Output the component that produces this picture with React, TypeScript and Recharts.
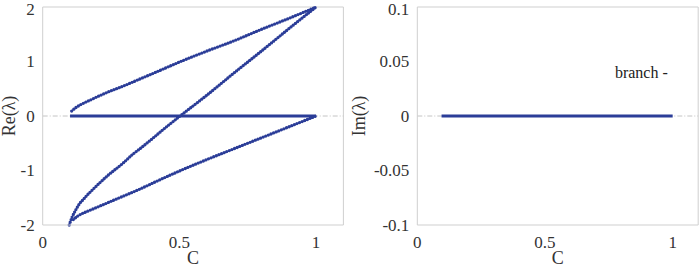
import { LineChart, Line, XAxis, YAxis, ReferenceLine, ReferenceDot } from "recharts";

// C values and Re(lambda) per branch
const upperC = [0.106, 0.12, 0.136, 0.173, 0.234, 0.295, 0.356, 0.417, 0.5, 0.6, 0.7, 0.8, 0.9, 1.0];
const upperRe = [0.09, 0.15, 0.2, 0.29, 0.43, 0.55, 0.68, 0.81, 0.99, 1.19, 1.38, 1.59, 1.79, 2.0];

const diagC = [0.097, 0.108, 0.118, 0.127, 0.136, 0.149, 0.161, 0.173, 0.21, 0.234, 0.295, 0.33, 0.356, 0.4, 0.45, 0.5, 0.6, 0.7, 0.8, 0.9, 1.0];
const diagRe = [-2.0, -1.85, -1.75, -1.67, -1.6, -1.53, -1.46, -1.4, -1.22, -1.11, -0.86, -0.7, -0.6, -0.42, -0.21, -0.01, 0.38, 0.79, 1.19, 1.6, 2.0];

const lowerC = [0.112, 0.13, 0.173, 0.234, 0.295, 0.356, 0.42, 0.5, 0.6, 0.7, 0.8, 0.9, 1.0];
const lowerRe = [-1.9, -1.83, -1.73, -1.6, -1.47, -1.34, -1.19, -1.01, -0.8, -0.6, -0.4, -0.2, 0.0];

const zeroC = [0.1, 1.0];
const zeroRe = [0, 0];

const imC = [0.095, 1.0];
const imVals = [0, 0];

const xTicks = [0, 0.5, 1];
const reTicks = [-2, -1, 0, 1, 2];
const imTicks = [-0.1, -0.05, 0, 0.05, 0.1];

const zip = (xs: number[], ys: number[]) => xs.map((x, i) => ({ x, y: ys[i] }));

const blue = "#2b3d98";
const frame = "#cfcfcf";
const serif = "Liberation Serif";
const txt = { fontFamily: serif };

const XTick = (props: any) => (
    <text x={props.x} y={props.y} dy="0.71em" textAnchor="middle" fill="#333" fontSize={17} style={txt}>
        {props.payload.value}
    </text>
);

const YTick = (props: any) => (
    <text x={props.x} y={props.y} textAnchor="end" dominantBaseline="central" fill="#333" fontSize={17} style={txt}>
        {props.payload.value}
    </text>
);

const yLabel = (text: string, x: number) => (props: any) => {
    const vb = props.viewBox;
    const cy = vb.y + vb.height / 2;
    return (
        <text
            x={x}
            y={cy}
            transform={`rotate(-90 ${x} ${cy})`}
            textAnchor="middle"
            dominantBaseline="central"
            fill="#333"
            fontSize={18}
            style={txt}
        >
            {text}
        </text>
    );
};

const xLabel = (props: any) => {
    const vb = props.viewBox;
    return (
        <text x={vb.x + vb.width / 2} y={vb.y + vb.height - 3} textAnchor="middle" fill="#333" fontSize={18} style={txt}>
            C
        </text>
    );
};

const branchLabel = (props: any) => {
    const vb = props.viewBox;
    return (
        <text x={vb.x} y={vb.y} dominantBaseline="central" fill="#222" fontSize={16} style={txt}>
            branch -
        </text>
    );
};

const dotted = {
    stroke: blue,
    strokeWidth: 3.3,
    strokeDasharray: "0 2.8",
    strokeLinecap: "round" as const,
};

export default function App() {
    return (
        <div
            style={{
                position: "absolute",
                left: 0,
                top: 0,
                width: 699,
                height: 267,
                display: "flex",
                background: "#fff",
                fontFamily: serif,
            }}
        >
            <LineChart width={350} height={267} margin={{ top: 7, right: 6.6, bottom: 0, left: 0 }}>
                <XAxis
                    type="number"
                    dataKey="x"
                    domain={[0, 1.1]}
                    ticks={xTicks}
                    tickLine={false}
                    tickMargin={5}
                    height={42}
                    axisLine={{ stroke: frame }}
                    tick={XTick}
                    label={{ content: xLabel }}
                />
                <YAxis
                    type="number"
                    dataKey="y"
                    domain={[-2, 2]}
                    ticks={reTicks}
                    tickLine={false}
                    width={42.7}
                    axisLine={{ stroke: frame }}
                    tick={YTick}
                    label={{ content: yLabel("Re(λ)", 9) }}
                />
                <ReferenceLine y={2} stroke={frame} />
                <ReferenceLine x={1.1} stroke={frame} />
                <ReferenceLine y={0} stroke="#c4c4c4" strokeDasharray="5 2 1 2" />
                <Line data={zip(zeroC, zeroRe)} dataKey="y" type="linear" stroke={blue} strokeWidth={3.2} dot={false} isAnimationActive={false} />
                <Line data={zip(upperC, upperRe)} dataKey="y" type="monotone" {...dotted} dot={false} isAnimationActive={false} />
                <Line data={zip(diagC, diagRe)} dataKey="y" type="monotone" {...dotted} dot={false} isAnimationActive={false} />
                <Line data={zip(lowerC, lowerRe)} dataKey="y" type="monotone" {...dotted} dot={false} isAnimationActive={false} />
            </LineChart>
            <LineChart width={349} height={267} margin={{ top: 7, right: 0.8, bottom: 0, left: 0 }}>
                <XAxis
                    type="number"
                    dataKey="x"
                    domain={[0, 1.1]}
                    ticks={xTicks}
                    tickLine={false}
                    tickMargin={5}
                    height={42}
                    axisLine={{ stroke: frame }}
                    tick={XTick}
                    label={{ content: xLabel }}
                />
                <YAxis
                    type="number"
                    dataKey="y"
                    domain={[-0.1, 0.1]}
                    ticks={imTicks}
                    tickLine={false}
                    width={67.3}
                    axisLine={{ stroke: frame }}
                    tick={YTick}
                    label={{ content: yLabel("Im(λ)", 9) }}
                />
                <ReferenceLine y={0.1} stroke={frame} />
                <ReferenceLine x={1.1} stroke={frame} />
                <ReferenceLine y={0} stroke="#c4c4c4" strokeDasharray="5 2 1 2" />
                <Line data={zip(imC, imVals)} dataKey="y" type="linear" stroke={blue} strokeWidth={3.2} dot={false} isAnimationActive={false} />
                <ReferenceDot x={0.774} y={0.04} r={0} stroke="none" fill="none" label={{ content: branchLabel }} />
            </LineChart>
        </div>
    );
}
